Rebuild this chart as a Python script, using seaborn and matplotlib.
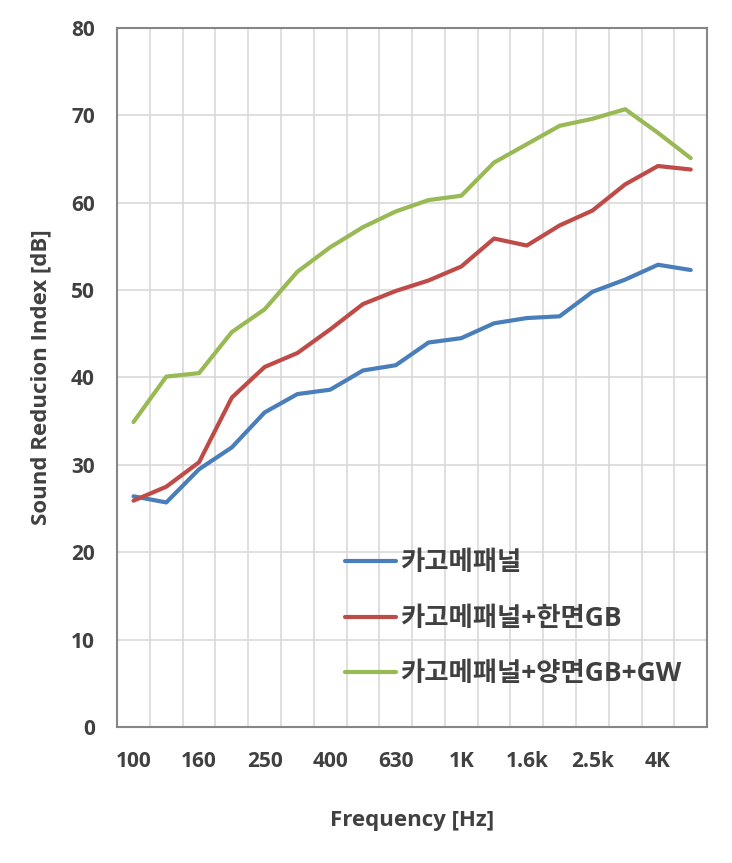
import numpy as np
import pandas as pd
import matplotlib
matplotlib.use('Agg')
import matplotlib.pyplot as plt
import seaborn as sns

# 1/3 octave bands
freqs = ['100', '125', '160', '200', '250', '315', '400', '500', '630', '800',
         '1K', '1.25k', '1.6k', '2k', '2.5k', '3.15k', '4K', '5k']
shown_labels = ['100', '160', '250', '400', '630', '1K', '1.6k', '2.5k', '4K']

series_names = ['카고메패널', '카고메패널+한면GB', '카고메패널+양면GB+GW']
kagome = [26.4, 25.7, 29.5, 32.0, 36.0, 38.1, 38.6, 40.8, 41.4, 44.0,
          44.5, 46.2, 46.8, 47.0, 49.8, 51.2, 52.9, 52.3]
kagome_gb = [25.9, 27.5, 30.3, 37.7, 41.2, 42.8, 45.5, 48.4, 49.9, 51.1,
             52.7, 55.9, 55.1, 57.4, 59.1, 62.1, 64.2, 63.8]
kagome_gb_gw = [34.9, 40.1, 40.5, 45.2, 47.8, 52.1, 54.9, 57.2, 59.0, 60.3,
                60.8, 64.6, 66.7, 68.8, 69.6, 70.7, 68.0, 65.1]
colors = ['#4a7ebb', '#be4b48', '#98b954']

rows = []
for name, vals in zip(series_names, [kagome, kagome_gb, kagome_gb_gw]):
    for i, v in enumerate(vals):
        rows.append({'idx': i, 'freq': freqs[i], 'value': v, 'series': name})
df = pd.DataFrame(rows)

sns.set_style('white')
plt.rcParams['font.family'] = ['Open Sans', 'Noto Sans CJK KR', 'DejaVu Sans']
plt.rcParams['font.weight'] = 'bold'

fig = plt.figure(figsize=(7.32, 8.63), dpi=100)
ax = fig.add_axes([0.160, 0.1576, 0.806, 0.81])

sns.lineplot(data=df, x='idx', y='value', hue='series', hue_order=series_names,
             palette=colors, linewidth=3, ax=ax)

ax.set_xlim(-0.5, len(freqs) - 0.5)
ax.set_ylim(0, 80)
ax.set_yticks(np.arange(0, 81, 10))
ax.set_xticks(np.arange(0, len(freqs), 2))
ax.set_xticklabels(shown_labels)
ax.set_xticks(np.arange(-0.5, len(freqs)), minor=True)

ax.grid(True, which='major', axis='y', color='#d9d9d9', linewidth=1.2)
ax.grid(True, which='minor', axis='x', color='#d9d9d9', linewidth=1.2)
ax.set_axisbelow(True)
ax.tick_params(which='both', length=0)
ax.tick_params(axis='x', labelsize=15, labelcolor='#404040', pad=17)
ax.tick_params(axis='y', labelsize=15, labelcolor='#404040', pad=16)
for lbl in ax.get_xticklabels() + ax.get_yticklabels():
    lbl.set_fontweight('bold')

for s in ax.spines.values():
    s.set_color('#868686')
    s.set_linewidth(1.5)

ax.set_xlabel('Frequency [Hz]', fontsize=16, fontweight='bold', color='#404040', labelpad=28)
ax.set_ylabel('Sound Reducion Index [dB]', fontsize=16, fontweight='bold', color='#404040', labelpad=14)

leg = ax.legend(loc='upper left', bbox_to_anchor=(0.387, 0.254), frameon=False,
                fontsize=19, handlelength=1.9, handletextpad=0.15, labelspacing=1.08,
                borderpad=0, borderaxespad=0)
for t in leg.get_texts():
    t.set_color('#404040')
    t.set_fontweight('bold')

plt.savefig('out.png', dpi=100)
